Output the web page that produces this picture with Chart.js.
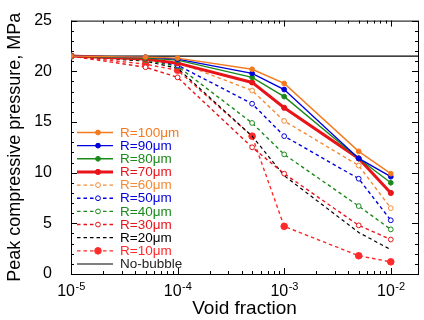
<!DOCTYPE html>
<html>
<head>
<meta charset="utf-8">
<script src="https://cdn.jsdelivr.net/npm/chart.js@4.4.1/dist/chart.umd.min.js"></script>
<style>
  html, body { margin: 0; padding: 0; background: #fff; }
  #wrap { width: 424px; height: 320px; }
</style>
</head>
<body>
<div id="wrap"><canvas id="chart" width="424" height="320"></canvas></div>
<script>
// Dados
const voidFraction = [1e-5, 5e-5, 1e-4, 5e-4, 1e-3, 5e-3, 1e-2];
const labels = ['R=100\u03bcm', 'R=90\u03bcm', 'R=80\u03bcm', 'R=70\u03bcm', 'R=60\u03bcm',
                'R=50\u03bcm', 'R=40\u03bcm', 'R=30\u03bcm', 'R=20\u03bcm', 'R=10\u03bcm'];
const p100 = [21.5, 21.4, 21.3, 20.2, 18.8, 12.1, 9.9];
const p90  = [21.5, 21.4, 21.2, 19.8, 18.2, 11.4, 9.6];
const p80  = [21.5, 21.3, 21.1, 19.4, 17.5, 11.4, 9.0];
const p70  = [21.5, 21.2, 20.8, 18.9, 16.4, 11.4, 8.0];
const p60  = [21.5, 21.2, 20.9, 18.1, 15.1, 10.7, 6.5];
const p50  = [21.5, 21.2, 20.6, 16.8, 13.6, 9.4, 5.3];
const p40  = [21.5, 21.1, 20.5, 14.9, 11.8, 6.7, 4.4];
const p30  = [21.5, 20.4, 19.4, 12.5, 9.9, 4.8, 3.4];
const p20  = [21.5, 21.0, 20.3, 13.6, 9.7, 4.1, 2.4];
const p10  = [21.5, 20.7, 20.1, 13.6, 4.7, 1.8, 1.2];
const noBubble = 21.5;
const xMin = 1e-5, xMax = 0.018;
const yMin = 0, yMax = 25;
const xTicks = [1e-5, 1e-4, 1e-3, 1e-2];
const xTickExp = ['-5', '-4', '-3', '-2'];

const ORANGE = '#f47a1f', BLUE = '#0000dc', GREEN = '#1b8a1b', RED = '#e8141a';
const FONT = '"Liberation Sans", Arial, sans-serif';

function pts(arr) {
    return voidFraction.map(function (x, i) { return { x: x, y: arr[i] }; });
}

function serie(label, arr, color, opts) {
    return Object.assign({
        label: label,
        data: pts(arr),
        showLine: true,
        borderColor: color,
        backgroundColor: color,
        pointBackgroundColor: color,
        pointBorderColor: color,
        borderWidth: 1.4,
        pointRadius: 2.4,
        pointBorderWidth: 1,
        borderDash: []
    }, opts || {});
}

const dash = [3.5, 3];
const datasets = [
    serie(labels[0], p100, ORANGE),
    serie(labels[1], p90, BLUE),
    serie(labels[2], p80, GREEN),
    serie(labels[3], p70, RED, { borderWidth: 3, pointRadius: 2.6 }),
    serie(labels[4], p60, '#f58a36', { borderDash: dash, pointBackgroundColor: '#fff' }),
    serie(labels[5], p50, BLUE, { borderDash: dash, pointBackgroundColor: '#fff' }),
    serie(labels[6], p40, GREEN, { borderDash: dash, pointBackgroundColor: '#fff' }),
    serie(labels[7], p30, RED, { borderDash: dash, pointBackgroundColor: '#fff' }),
    serie(labels[8], p20, '#000', { borderDash: dash, pointRadius: 0, borderWidth: 1.2 }),
    serie(labels[9], p10, '#ff2a2a', { borderDash: dash, pointRadius: 3.3 }),
    {
        label: 'No-bubble',
        data: [{ x: xMin, y: noBubble }, { x: xMax, y: noBubble }],
        showLine: true,
        borderColor: '#000',
        borderWidth: 1.2,
        pointRadius: 0,
        borderDash: []
    }
];

// Moldura, marcas dos eixos, rótulos x e legenda
const framePlugin = {
    id: 'frame',
    beforeDatasetsDraw: function (chart) {
        const ctx = chart.ctx, a = chart.chartArea;
        const xs = chart.scales.x, ys = chart.scales.y;
        ctx.save();
        ctx.strokeStyle = '#000';
        ctx.lineWidth = 1;
        ctx.strokeRect(a.left + 0.5, a.top + 0.5, a.right - a.left, a.bottom - a.top);
        ctx.beginPath();
        for (let e = -5; e <= -2; e++) {
            for (let m = 1; m <= 9; m++) {
                const v = m * Math.pow(10, e);
                if (v < xMin || v > xMax) continue;
                const px = Math.round(xs.getPixelForValue(v)) + 0.5;
                const len = m === 1 ? 6 : 3;
                ctx.moveTo(px, a.bottom); ctx.lineTo(px, a.bottom - len);
                ctx.moveTo(px, a.top); ctx.lineTo(px, a.top + len);
            }
        }
        for (let v = yMin; v <= yMax; v++) {
            const py = Math.round(ys.getPixelForValue(v)) + 0.5;
            const len = v % 5 === 0 ? 6 : 3;
            ctx.moveTo(a.left, py); ctx.lineTo(a.left + len, py);
            ctx.moveTo(a.right, py); ctx.lineTo(a.right - len, py);
        }
        ctx.stroke();

        // rótulos 10^n
        ctx.fillStyle = '#000';
        ctx.textBaseline = 'alphabetic';
        ctx.textAlign = 'left';
        xTicks.forEach(function (v, i) {
            const px = xs.getPixelForValue(v);
            ctx.font = '16px ' + FONT;
            const wb = ctx.measureText('10').width;
            ctx.font = '11px ' + FONT;
            const we = ctx.measureText(xTickExp[i]).width;
            const x0 = px - (wb + we) / 2;
            ctx.font = '16px ' + FONT;
            ctx.fillText('10', x0, 296);
            ctx.font = '11px ' + FONT;
            ctx.fillText(xTickExp[i], x0 + wb + 0.5, 290);
        });
        ctx.restore();
    },
    afterDraw: function (chart) {
        const ctx = chart.ctx;
        const x1 = 77, x2 = 113, xm = 98, xt = 120;
        const y0 = 132.5, dy = 13.15;
        ctx.save();
        ctx.font = '13.5px ' + FONT;
        ctx.textBaseline = 'middle';
        ctx.textAlign = 'left';
        chart.data.datasets.forEach(function (ds, i) {
            const y = y0 + i * dy;
            ctx.strokeStyle = ds.borderColor;
            ctx.lineWidth = ds.borderWidth;
            ctx.setLineDash(ds.borderDash || []);
            ctx.beginPath();
            ctx.moveTo(x1, y); ctx.lineTo(x2, y);
            ctx.stroke();
            ctx.setLineDash([]);
            if (ds.pointRadius > 0) {
                ctx.beginPath();
                ctx.arc(xm, y, ds.pointRadius, 0, Math.PI * 2);
                ctx.fillStyle = ds.pointBackgroundColor;
                ctx.fill();
                ctx.lineWidth = 1;
                ctx.strokeStyle = ds.pointBorderColor;
                ctx.stroke();
            }
            ctx.fillStyle = ds.label === 'No-bubble' ? '#222' : ds.borderColor;
            ctx.fillText(ds.label, xt, y + 0.5);
        });
        ctx.restore();
    }
};

let ctx = document.getElementById('chart').getContext('2d');
let myChart = new Chart(ctx, {
    type: 'scatter',
    data: { datasets: datasets },
    options: {
        responsive: false,
        animation: false,
        layout: { padding: { left: 0, right: 6, top: 16, bottom: 0 } },
        plugins: {
            legend: { display: false },
            tooltip: { enabled: false }
        },
        scales: {
            x: {
                type: 'logarithmic',
                min: xMin,
                max: xMax,
                grid: { display: false },
                border: { display: false },
                ticks: { display: false },
                title: {
                    display: true,
                    text: 'Void fraction',
                    color: '#000',
                    font: { family: FONT, size: 19 },
                    padding: { top: 0, bottom: 0 }
                },
                afterFit: function (s) { s.height = 46; }
            },
            y: {
                min: yMin,
                max: yMax,
                grid: { display: false },
                border: { display: false },
                ticks: {
                    stepSize: 5,
                    color: '#000',
                    padding: 11,
                    font: { family: FONT, size: 16 }
                },
                title: {
                    display: true,
                    text: 'Peak compressive pressure, MPa',
                    color: '#000',
                    font: { family: FONT, size: 18 },
                    padding: { top: 4, bottom: 0 }
                },
                afterFit: function (s) { s.width = 71; }
            }
        }
    },
    plugins: [framePlugin]
});
</script>
</body>
</html>
